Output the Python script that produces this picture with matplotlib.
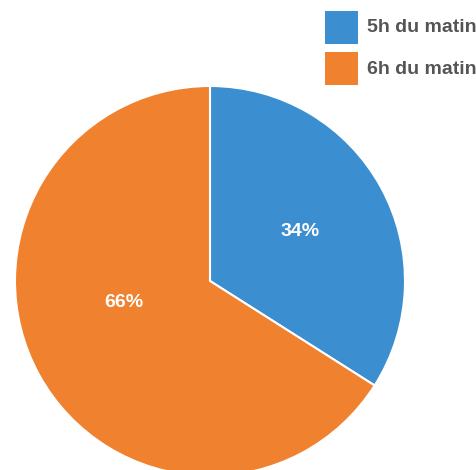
import matplotlib
matplotlib.use("Agg")
import matplotlib.pyplot as plt
from matplotlib.patches import Rectangle

labels = ["5h du matin", "6h du matin"]
values = [34, 66]
colors = ["#3b8fd0", "#f0812e"]

plt.rcParams["font.family"] = ["Liberation Sans", "DejaVu Sans"]

W, H = 477, 470
fig = plt.figure(figsize=(W / 100, H / 100), dpi=100)
# axes placed so the pie sits like the reference (centre ~ (210, 281) px, r ~ 195 px)
ax = fig.add_axes([15 / W, -6 / H, 390 / W, 390 / H])
wedges, texts, autotexts = ax.pie(
    values,
    colors=colors,
    startangle=90,
    counterclock=False,
    autopct="%d%%",
    pctdistance=0.53,
    wedgeprops=dict(edgecolor="white", linewidth=1.5),
    textprops=dict(color="white", fontsize=14, fontweight="bold"),
)
autotexts[1].set_position((-0.44, -0.11))
ax.set_xlim(-1, 1)
ax.set_ylim(-1, 1)
ax.set_aspect("equal")
ax.axis("off")

# legend drawn by hand: square swatches + bold grey labels
for i, (lab, c) in enumerate(zip(labels, colors)):
    top = 11 + i * 41
    fig.patches.append(Rectangle((325 / W, 1 - (top + 33) / H), 33 / W, 33 / H,
                                 transform=fig.transFigure, facecolor=c,
                                 edgecolor="none"))
    fig.text(367 / W, 1 - (top + 17) / H, lab, ha="left", va="center",
             fontsize=14, fontweight="bold", color="#555555")

fig.savefig("out.png", dpi=100)
